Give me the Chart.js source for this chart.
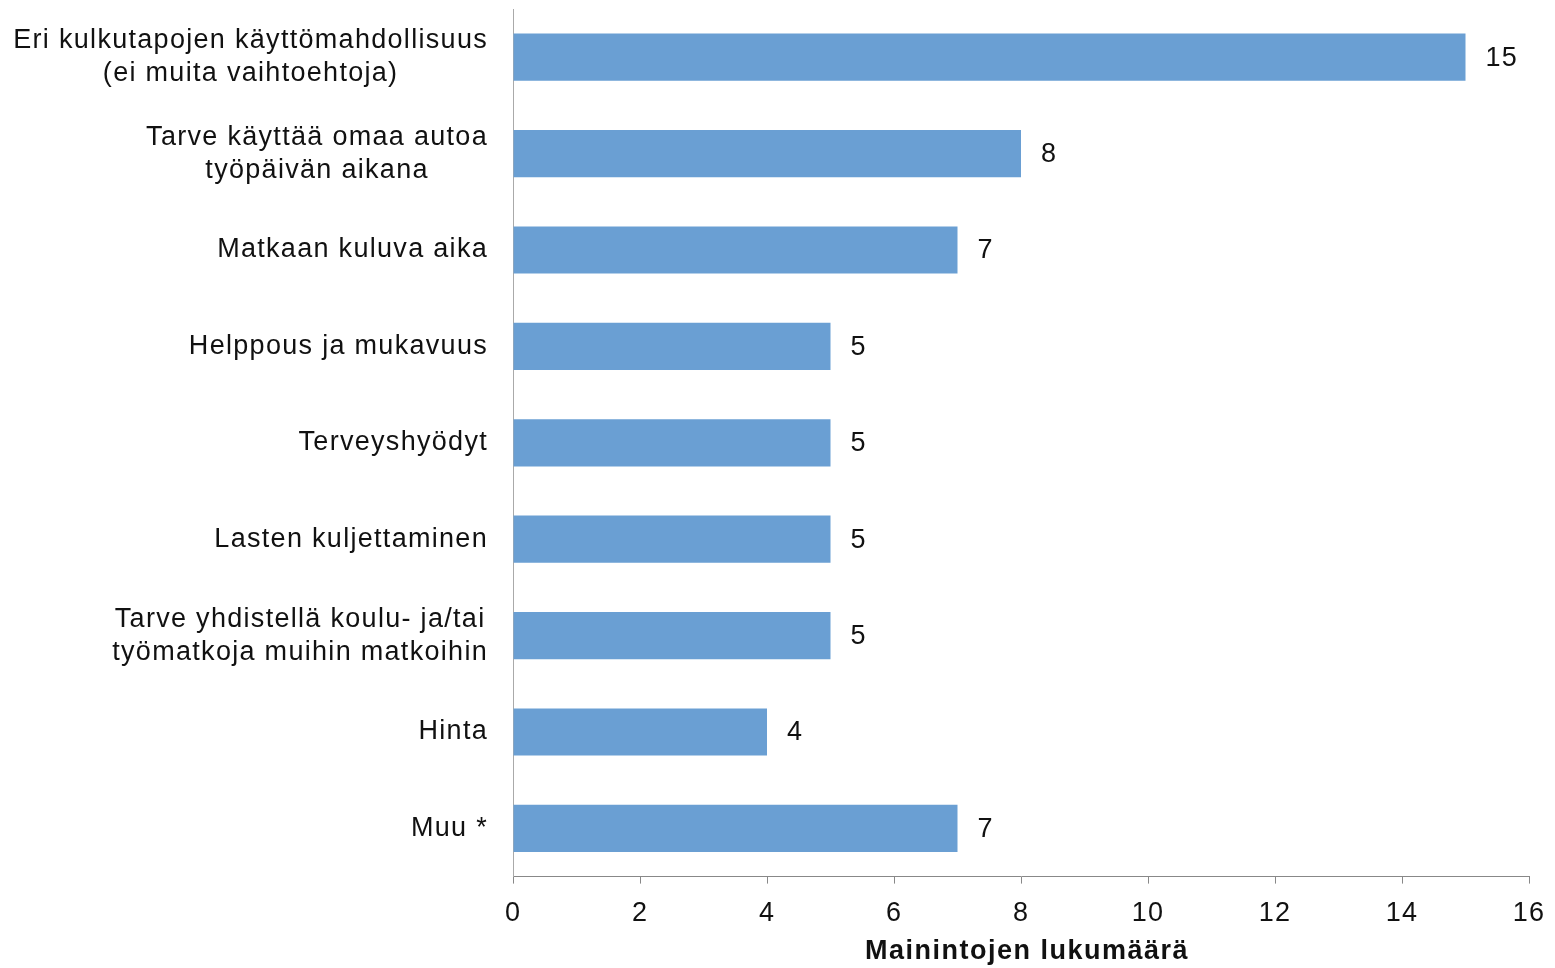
<!DOCTYPE html>
<html>
<head>
<meta charset="utf-8">
<script src="https://cdn.jsdelivr.net/npm/chart.js@4/dist/chart.umd.min.js"></script>
<style>
html,body{margin:0;padding:0;background:#fff;}
canvas{display:block;}
</style>
</head>
<body>
<canvas id="c" width="1555" height="968"></canvas>
<script>
const categories = [
  ["Eri kulkutapojen käyttömahdollisuus", "(ei muita vaihtoehtoja)"],
  ["Tarve käyttää omaa autoa", "työpäivän aikana"],
  ["Matkaan kuluva aika"],
  ["Helppous ja mukavuus"],
  ["Terveyshyödyt"],
  ["Lasten kuljettaminen"],
  ["Tarve yhdistellä koulu- ja/tai", "työmatkoja muihin matkoihin"],
  ["Hinta"],
  ["Muu *"]
];
const values = [15, 8, 7, 5, 5, 5, 5, 4, 7];
const xTicks = [0, 2, 4, 6, 8, 10, 12, 14, 16];
const xTitle = "Mainintojen lukumäärä";

const FONT = "'Liberation Sans', Arial, sans-serif";
const SPACING = '1.2px';

const spacingPlugin = {
  id: 'spacing',
  beforeLayout(chart) { chart.ctx.letterSpacing = SPACING; },
  beforeDraw(chart) { chart.ctx.letterSpacing = SPACING; }
};

const categoryLabels = {
  id: 'categoryLabels',
  afterDraw(chart) {
    const ctx = chart.ctx;
    const yScale = chart.scales.y;
    const rightEdge = yScale.right - 25;
    const lh = 33;
    ctx.save();
    ctx.letterSpacing = '1.3px';
    ctx.font = "27px " + FONT;
    ctx.fillStyle = "#111";
    ctx.textAlign = "center";
    ctx.textBaseline = "middle";
    categories.forEach((lines, i) => {
      const cy = yScale.getPixelForValue(i);
      const maxW = Math.max(...lines.map(l => ctx.measureText(l).width));
      const cx = rightEdge - maxW / 2;
      lines.forEach((l, k) => {
        ctx.fillText(l, cx, cy - (lines.length - 1) * lh / 2 + k * lh);
      });
    });
    // x-axis title
    const ca = chart.chartArea;
    ctx.letterSpacing = '1.5px';
    ctx.font = "bold 27px " + FONT;
    ctx.fillText(xTitle, (ca.left + ca.right) / 2 + 6, ca.bottom + 75);
    ctx.restore();
  }
};

const valueLabels = {
  id: 'valueLabels',
  afterDatasetsDraw(chart) {
    const ctx = chart.ctx;
    const meta = chart.getDatasetMeta(0);
    ctx.save();
    ctx.letterSpacing = '1.2px';
    ctx.font = "27px " + FONT;
    ctx.fillStyle = "#111";
    ctx.textAlign = "left";
    ctx.textBaseline = "middle";
    meta.data.forEach((bar, i) => {
      ctx.fillText(String(values[i]), bar.x + 20, bar.y + 1);
    });
    ctx.restore();
  }
};

new Chart(document.getElementById('c'), {
  type: 'bar',
  data: {
    labels: categories.map(l => l.join(' ')),
    datasets: [{
      data: values,
      backgroundColor: '#6a9fd3',
      borderWidth: 0,
      barPercentage: 0.49,
      categoryPercentage: 1.0
    }]
  },
  options: {
    indexAxis: 'y',
    responsive: false,
    animation: false,
    devicePixelRatio: 1,
    layout: { padding: { top: 9, right: 26, bottom: 24, left: 0 } },
    plugins: {
      legend: { display: false },
      tooltip: { enabled: false }
    },
    scales: {
      x: {
        min: 0,
        max: 16,
        afterBuildTicks(scale) { scale.ticks = xTicks.map(v => ({ value: v })); },
        afterFit(scale) { scale.paddingRight = 0; scale.paddingLeft = 0; },
        grid: { drawOnChartArea: false, drawTicks: true, tickLength: 7, color: '#888' },
        border: { display: true, color: '#888', width: 1 },
        ticks: { font: { family: FONT, size: 27 }, color: '#111', padding: 14, maxRotation: 0 },
        title: { display: false }
      },
      y: {
        afterFit(scale) { scale.width = 513; scale.paddingTop = 0; scale.paddingBottom = 0; },
        grid: { drawOnChartArea: false, drawTicks: false },
        border: { display: true, color: '#aaa', width: 1 },
        ticks: { display: false }
      }
    }
  },
  plugins: [spacingPlugin, valueLabels, categoryLabels]
});
</script>
</body>
</html>
